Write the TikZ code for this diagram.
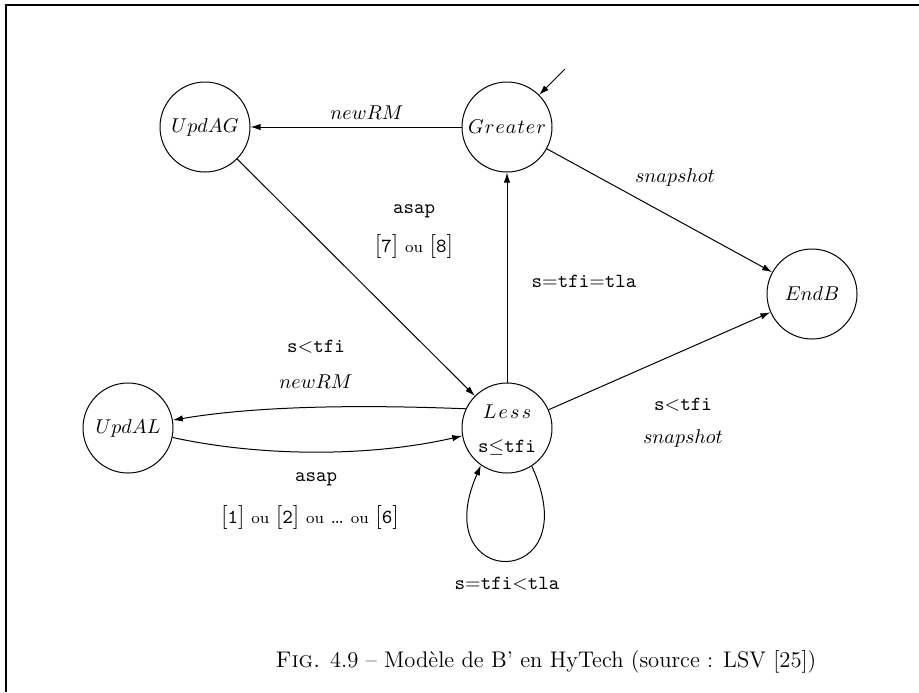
\documentclass[tikz,border=0pt]{standalone}
\usetikzlibrary{arrows.meta}
\begin{document}
\begin{tikzpicture}[x=0.5pt,y=-0.5pt,
  state/.style={circle,draw,line width=0.5pt,minimum size=45pt,inner sep=0pt},
  edge/.style={line width=0.5pt,-{Latex[length=5pt,width=3.2pt]}},
  lbl/.style={inner sep=0pt,font=\normalsize}]
\useasboundingbox (0,0) rectangle (919,692);
% frame
\draw[line width=1.1pt] (919,5) -- (6,5) -- (6,692);

% states
\node[state] (updag) at (205,127) {$UpdAG$};
\node[state] (greater) at (507,127) {$G\mkern1mu r\mkern1mu e\mkern1mu a\mkern1mu t\mkern1mu e\mkern1mu r$};
\node[state] (endb) at (812,294) {$EndB$};
\node[state] (less) at (507,428) {};
\node[state] (updal) at (128,428) {$UpdAL$};
\node[lbl] (lessname) at (507,412) {$L\mkern2mu e\mkern2mu s\mkern2mu s$};
\node[lbl] (lessinv) at (507,447) {\texttt{s$\leq$tfi}};

% initial arrow
\coordinate (init) at (565,69);
\draw[edge] (init) -- (greater);

% transitions
\draw[edge] (greater) -- (updag);
\draw[edge] (updag) -- (less);
\draw[edge] (less) -- (greater);
\draw[edge] (greater) -- (endb);
\draw[edge] (less) -- (endb);
\draw[edge] (less.155) .. controls (370,405) and (262,405) .. (updal.10);
\draw[edge] (updal.-12) .. controls (262,457) and (370,457) .. (less.190);
\draw[edge] (less.-57) .. controls (590,592) and (425,592) .. (less.-125);

% labels
\node[lbl] (l1) at (367,113) {$newRM$};
\node[lbl] (l2) at (414,211) {\texttt{asap}};
\node[lbl] (l3) at (414,246) {{\large[}\texttt{7}{\large]} {\footnotesize ou} {\large[}\texttt{8}{\large]}};
\node[lbl] (l4) at (584,281) {\texttt{s$=$tfi$=$tla}};
\node[lbl] (l5) at (675,177) {$snapshot$};
\node[lbl] (l6) at (683,405) {\texttt{s$<$tfi}};
\node[lbl] (l7) at (683,438) {$snapshot$};
\node[lbl] (l8) at (316,347) {\texttt{s$<$tfi}};
\node[lbl] (l9) at (316,382) {$newRM$};
\node[lbl] (l10) at (316,479) {\texttt{asap}};
\node[lbl] (l11) at (310,517) {{\large[}\texttt{1}{\large]} {\footnotesize ou} {\large[}\texttt{2}{\large]} {\footnotesize ou} \dots{} {\footnotesize ou} {\large[}\texttt{6}{\large]}};
\node[lbl] (l12) at (507,584) {\texttt{s$=$tfi$<$tla}};

% caption
\node[inner sep=0pt,font=\fontsize{11.3}{14}\selectfont] (cap) at (546,662) {\textsc{Fig.} 4.9 -- Modèle de B' en HyTech (source : LSV [25])};
\end{tikzpicture}
\end{document}
